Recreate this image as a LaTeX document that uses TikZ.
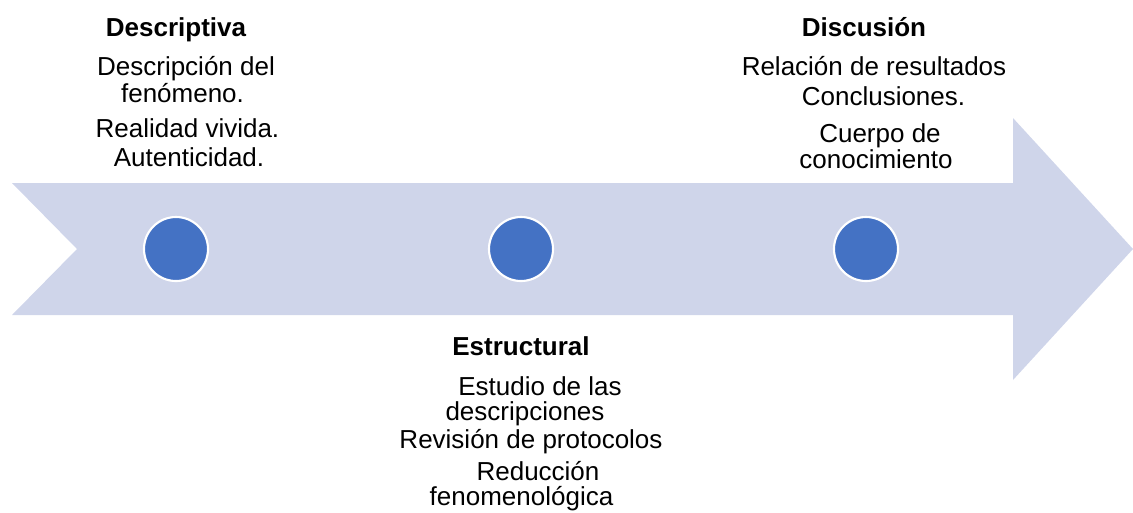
\documentclass[tikz,border=0pt]{standalone}
\usepackage{fontspec}
\setmainfont{Liberation Sans}
\definecolor{arrowfill}{HTML}{CFD5EA}
\definecolor{dotblue}{HTML}{4472C4}

\begin{document}
\begin{tikzpicture}[x=0.75pt, y=-0.75pt,
    phase dot/.style={circle, fill=dotblue, draw=white, line width=1.6pt, minimum size=48pt, inner sep=0pt},
    phase title/.style={anchor=base, inner sep=0pt, font=\fontsize{19.5}{22}\selectfont\bfseries},
    phase text/.style={anchor=base, inner sep=0pt, font=\fontsize{19.5}{22}\selectfont}]
    \useasboundingbox (0,0) rectangle (1133,512);

    % Timeline arrow (notched tail, pointed head)
    \fill[arrowfill] (12,183) -- (1013,183) -- (1013,118) -- (1133,249)
        -- (1013,380) -- (1013,315) -- (12,315) -- (77,249) -- cycle;

    % Phase markers
    \node[phase dot] (dot1) at (176,249) {};
    \node[phase dot] (dot2) at (521,249) {};
    \node[phase dot] (dot3) at (866,249) {};

    % Descriptiva (above)
    \node[phase title] (desc) at (176,36) {Descriptiva};
    \foreach \x/\y/\txt [count=\i] in {186/75/Descripción del, 182.5/102/fenómeno.,
        187.5/137/Realidad vivida., 189/166/Autenticidad.}
        \node[phase text] (desc\i) at (\x,\y) {\txt};

    % Estructural (below)
    \node[phase title] (estr) at (521,355) {Estructural};
    \foreach \x/\y/\txt [count=\i] in {540/395/Estudio de las, 525/420/descripciones,
        531/448/Revisión de protocolos, 538/480/Reducción, 521.5/505/fenomenológica}
        \node[phase text] (estr\i) at (\x,\y) {\txt};

    % Discusión (above)
    \node[phase title] (disc) at (864,36) {Discusión};
    \foreach \x/\y/\txt [count=\i] in {874/75/Relación de resultados, 883.5/105/Conclusiones.,
        880/142/Cuerpo de, 876/168/conocimiento}
        \node[phase text] (disc\i) at (\x,\y) {\txt};
\end{tikzpicture}
\end{document}
